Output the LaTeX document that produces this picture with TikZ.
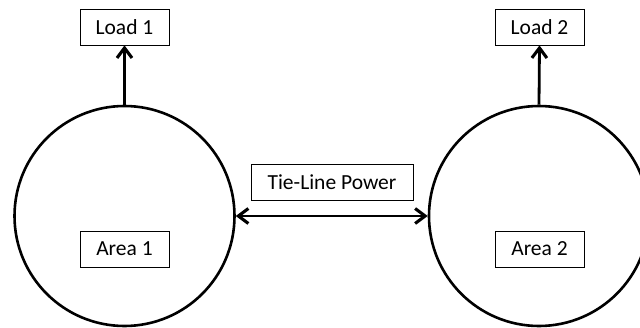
\documentclass[tikz,border=0pt]{standalone}
\usepackage{fontspec}
\setmainfont{Carlito}
\usetikzlibrary{arrows.meta}
\begin{document}
\begin{tikzpicture}[x=1pt,y=-1pt,
  area/.style={circle,draw,line width=2.6pt,minimum size=220pt,inner sep=0pt},
  label box/.style={draw,line width=0.8pt,minimum width=89pt,minimum height=36pt,inner sep=2pt,
    font=\fontsize{21.5}{25}\selectfont},
  barb/.tip={Straight Barb[length=10pt,width=15pt,line width=0pt 1.1]},
  flow/.style={line width=2.8pt,-barb},
  tie/.style={line width=2.8pt,barb-barb}]
\useasboundingbox (0,0) rectangle (640,327);
\fill[white] (0,0) rectangle (640,327);
\clip (0,0) rectangle (640,327);
% two control areas
\node[area] (c1) at (124.5,216) {};
\node[area] (c2) at (539,216) {};
% labels inside the areas
\node[label box] (a1) at (124.5,249) {Area 1};
\node[label box] (a2) at (539.5,249) {Area 2};
% loads
\node[label box] (l1) at (124.5,27) {Load 1};
\node[label box] (l2) at (539.5,27) {Load 2};
% tie-line
\node[label box,minimum width=162pt] (tl) at (332,182) {Tie-Line Power};
\draw[flow] (c1.north) -- (l1.south);
\draw[flow] (c2.north) -- (l2.south);
\draw[tie] (c1.east) -- (c2.west);
\end{tikzpicture}
\end{document}
